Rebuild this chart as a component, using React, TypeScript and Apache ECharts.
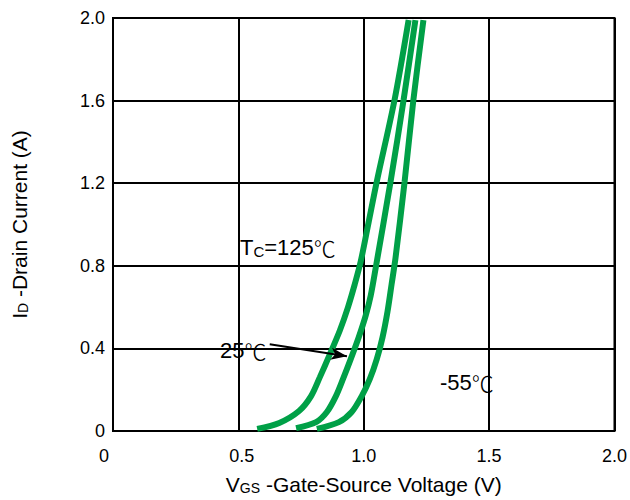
import React, { useEffect, useRef } from "react";
import * as echarts from "echarts";

// Tc = 125 °C
const vgs125 = [0.575, 0.663, 0.742, 0.79, 0.825, 0.865, 0.905, 0.937, 0.964, 0.988, 1.02, 1.052, 1.123, 1.179];
const id125 = [0.01, 0.039, 0.097, 0.169, 0.261, 0.372, 0.488, 0.599, 0.71, 0.821, 1.014, 1.208, 1.604, 1.99];
// 25 °C
const vgs25 = [0.73, 0.81, 0.853, 0.889, 0.917, 0.948, 0.98, 1.008, 1.028, 1.048, 1.107, 1.159, 1.206];
const id25 = [0.014, 0.043, 0.092, 0.169, 0.251, 0.348, 0.454, 0.56, 0.657, 0.792, 1.208, 1.604, 1.99];
// -55 °C
const vgsM55 = [0.813, 0.901, 0.952, 0.992, 1.024, 1.052, 1.075, 1.095, 1.111, 1.127, 1.163, 1.198, 1.238];
const idM55 = [0.01, 0.043, 0.092, 0.169, 0.251, 0.348, 0.454, 0.58, 0.71, 0.841, 1.208, 1.604, 1.99];

const xTicks = [0, 0.5, 1.0, 1.5, 2.0];
const yTicks = [0, 0.4, 0.8, 1.2, 1.6, 2.0];

// arrow for the 25 °C label: [vgs, id]
const arrowFrom = [0.625, 0.42];
const arrowTo = [0.933, 0.362];

const FONT = "'Liberation Sans', Arial, sans-serif";
const CJK = "'Noto Sans CJK SC', sans-serif";
const GREEN = "#00a047";

function pairs(xs: number[], ys: number[]) {
  return xs.map((x, i) => [x, ys[i]]);
}

export default function App() {
  const ref = useRef<HTMLDivElement>(null);
  useEffect(() => {
    if (!ref.current) return;
    const chart = echarts.init(ref.current, null, { renderer: "svg" });
    const lineSeries = (name: string, data: number[][], extra: any = {}) => ({
      name,
      type: "line",
      data,
      smooth: 0.3,
      showSymbol: false,
      symbol: "none",
      lineStyle: { color: GREEN, width: 6 },
      ...extra,
    });
    const nameRich = {
      m: { fontSize: 21, color: "#000", fontFamily: FONT },
      s: { fontSize: 14, color: "#000", fontFamily: FONT, padding: [7, 0, 0, 0] },
    };
    chart.setOption({
      animation: false,
      backgroundColor: "#fff",
      textStyle: { fontFamily: FONT },
      grid: {
        left: 113,
        right: 13,
        top: 18,
        bottom: 68,
        show: true,
        borderColor: "#000",
        borderWidth: 2,
      },
      xAxis: {
        type: "value",
        min: 0,
        max: 2,
        interval: 0.5,
        axisLine: { show: false },
        axisTick: { show: false },
        splitLine: { show: true, lineStyle: { color: "#000", width: 2 } },
        axisLabel: {
          margin: 16,
          fontSize: 18,
          color: "#000",
          fontFamily: FONT,
          formatter: (v: number) => {
            const t = xTicks.find((k) => Math.abs(k - v) < 1e-9);
            if (t === undefined) return "";
            if (t === 0) return "{z|0}";
            if (t === 0.5) return "{h|0.5}";
            return t.toFixed(1);
          },
          rich: {
            z: { fontSize: 18, color: "#000", fontFamily: FONT, padding: [0, 18, 0, 0] },
            h: { fontSize: 18, color: "#000", fontFamily: FONT, padding: [0, 0, 0, 7] },
          },
        },
        name: "{m|V}{s|GS}{m| -Gate-Source Voltage (V)}",
        nameLocation: "middle",
        nameGap: 43,
        nameTextStyle: { rich: nameRich },
      },
      yAxis: {
        type: "value",
        min: 0,
        max: 2,
        interval: 0.4,
        axisLine: { show: false },
        axisTick: { show: false },
        splitLine: { show: true, lineStyle: { color: "#000", width: 2 } },
        axisLabel: {
          margin: 8,
          fontSize: 18,
          color: "#000",
          fontFamily: FONT,
          formatter: (v: number) => {
            const t = yTicks.find((k) => Math.abs(k - v) < 1e-9);
            if (t === undefined) return "";
            return t === 0 ? "0" : t.toFixed(1);
          },
        },
        name: "{m|I}{s|D}{m| -Drain Current (A)}",
        nameLocation: "middle",
        nameRotate: 90,
        nameGap: 83,
        nameTextStyle: { rich: nameRich },
      },
      series: [
        lineSeries("125", pairs(vgs125, id125)),
        lineSeries("25", pairs(vgs25, id25), {
          markLine: {
            silent: true,
            symbol: ["none", "arrow"],
            symbolSize: [9, 16],
            label: { show: false },
            lineStyle: { color: "#000", width: 2, type: "solid" },
            data: [[{ coord: arrowFrom }, { coord: arrowTo }]],
          },
        }),
        lineSeries("-55", pairs(vgsM55, idM55)),
      ],
      graphic: [
        {
          type: "text",
          left: 240,
          top: 236,
          style: {
            text: "{t|T}{s|C}{t|=125}{c|℃}",
            rich: {
              t: { fontSize: 22, fill: "#000", fontFamily: FONT },
              s: { fontSize: 15, fill: "#000", fontFamily: FONT, padding: [8, 0, 0, 0] },
              c: { fontSize: 22, fill: "#000", fontFamily: CJK, fontWeight: 300 },
            },
          },
        },
        {
          type: "text",
          left: 220,
          top: 339,
          style: {
            text: "{t|25}{c|℃}",
            rich: {
              t: { fontSize: 22, fill: "#000", fontFamily: FONT },
              c: { fontSize: 22, fill: "#000", fontFamily: CJK, fontWeight: 300 },
            },
          },
        },
        {
          type: "text",
          left: 440,
          top: 371,
          style: {
            text: "{t|-55}{c|℃}",
            rich: {
              t: { fontSize: 22, fill: "#000", fontFamily: FONT },
              c: { fontSize: 22, fill: "#000", fontFamily: CJK, fontWeight: 300 },
            },
          },
        },
      ],
    });
    return () => chart.dispose();
  }, []);
  return (
    <div
      ref={ref}
      style={{ position: "fixed", left: 0, top: 0, width: 630, height: 500, background: "#fff" }}
    />
  );
}
